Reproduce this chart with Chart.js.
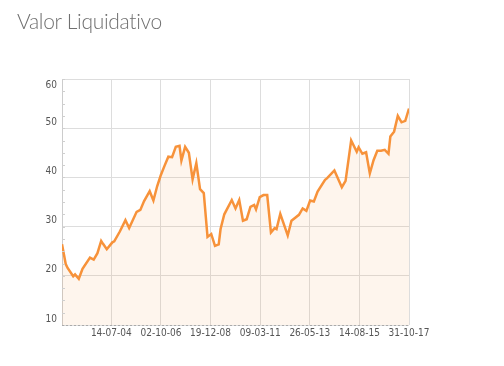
<!DOCTYPE html>
<html lang="es">
<head>
  <meta charset="UTF-8">
  <title>Valor Liquidativo</title>
  <script src="https://cdn.jsdelivr.net/npm/chart.js"></script>
  <style>
    body {
      margin: 0;
      background-color: #ffffff;
      font-family: Lato, 'Open Sans', sans-serif;
    }

    #wrap {
      position: relative;
      width: 504px;
      height: 366px;
    }

    h2 {
      position: absolute;
      left: 17px;
      top: 8px;
      margin: 0;
      font-size: 21px;
      font-weight: 300;
      color: #707070;
      letter-spacing: -0.3px;
    }

    canvas {
      position: absolute;
      left: 0;
      top: 0;
    }
  </style>
</head>
<body>

  <div id="wrap">
    <canvas id="myChart" width="504" height="366"></canvas>
    <h2>Valor Liquidativo</h2>
  </div>

  <script>
    // month of each reading (YYYY-MM) and its value
    var months = [
      '2002-05', '2002-07', '2002-08', '2002-11', '2002-12', '2003-02', '2003-04', '2003-08',
      '2003-10', '2003-12', '2004-02', '2004-03', '2004-05', '2004-08', '2004-09', '2004-12',
      '2005-03', '2005-05', '2005-09', '2005-11', '2006-01', '2006-04', '2006-06', '2006-08',
      '2006-10', '2006-12', '2007-02', '2007-04', '2007-06', '2007-08', '2007-09', '2007-11',
      '2008-01', '2008-03', '2008-05', '2008-07', '2008-09', '2008-11', '2009-01', '2009-03',
      '2009-05', '2009-06', '2009-08', '2009-12', '2010-02', '2010-04', '2010-06', '2010-08',
      '2010-10', '2010-12', '2011-01', '2011-03', '2011-05', '2011-07', '2011-09', '2011-11',
      '2011-12', '2012-02', '2012-06', '2012-08', '2012-12', '2013-02', '2013-04', '2013-06',
      '2013-08', '2013-10', '2014-02', '2014-03', '2014-07', '2014-11', '2015-01', '2015-04',
      '2015-07', '2015-08', '2015-10', '2015-12', '2016-02', '2016-04', '2016-06', '2016-08',
      '2016-10', '2016-12', '2017-01', '2017-03', '2017-05', '2017-07', '2017-09', '2017-11'
    ];
    var valores = [
      26.4, 22.4, 21.6, 19.9, 20.3, 19.4, 21.4, 23.7,
      23.3, 24.6, 27.1, 26.5, 25.4, 26.8, 27.0, 29.0,
      31.3, 29.7, 33.0, 33.4, 35.2, 37.2, 35.3, 38.2,
      40.5, 42.4, 44.2, 44.1, 46.2, 46.4, 43.4, 46.2,
      45.0, 39.6, 42.9, 37.6, 36.8, 27.9, 28.5, 26.1,
      26.4, 29.5, 32.5, 35.4, 33.7, 35.4, 31.2, 31.5,
      34.0, 34.4, 33.5, 36.0, 36.4, 36.4, 28.8, 29.7,
      29.5, 32.6, 28.2, 31.2, 32.4, 33.7, 33.2, 35.3,
      35.1, 37.1, 39.5, 39.8, 41.4, 38.0, 39.3, 47.5,
      45.2, 46.1, 44.8, 45.1, 40.8, 43.5, 45.4, 45.4,
      45.6, 44.8, 48.3, 49.3, 52.5, 51.2, 51.5, 54.0
    ];
    var fechasEje = ['14-07-04', '02-10-06', '19-12-08', '09-03-11', '26-05-13', '14-08-15', '31-10-17'];
    var ticksY = [10, 20, 30, 40, 50, 60];

    // months since Jan 2002
    function mesDe(s) {
      var p = s.split('-');
      return (parseInt(p[0]) - 2002) * 12 + parseInt(p[1]) - 1;
    }
    function mesDeFecha(s) {
      var p = s.split('-');
      return (2000 + parseInt(p[2]) - 2002) * 12 + parseInt(p[1]) - 1 + (parseInt(p[0]) - 1) / 30;
    }

    var puntos = months.map(function (m, i) { return { x: mesDe(m), y: valores[i] }; });
    var posTicks = fechasEje.map(mesDeFecha);
    var fuenteEjes = "10px 'DejaVu Sans Condensed', sans-serif";

    // y labels sit just above their grid line (the top one just below),
    // minor marks on the y axis, dotted bottom axis
    var extrasEjes = {
      id: 'extrasEjes',
      afterDatasetsDraw: function (chart) {
        var y = chart.scales.y;
        var ctx = chart.ctx;
        var area = chart.chartArea;
        ctx.save();
        ctx.strokeStyle = '#cfcfcf';
        ctx.lineWidth = 1;
        for (var v = ticksY[0]; v <= ticksY[ticksY.length - 1]; v += 2.5) {
          var py = Math.round(y.getPixelForValue(v)) + 0.5;
          ctx.beginPath();
          ctx.moveTo(area.left, py);
          ctx.lineTo(area.left + 3, py);
          ctx.stroke();
        }
        ctx.strokeStyle = '#aaaaaa';
        ctx.setLineDash([2, 2]);
        ctx.beginPath();
        ctx.moveTo(area.left, area.bottom + 0.5);
        ctx.lineTo(area.right, area.bottom + 0.5);
        ctx.stroke();
        ctx.setLineDash([]);

        ctx.fillStyle = '#555555';
        ctx.font = fuenteEjes;
        ctx.textAlign = 'right';
        ctx.textBaseline = 'middle';
        ticksY.forEach(function (t, i) {
          var py = y.getPixelForValue(t);
          var off = (i === ticksY.length - 1) ? 6 : -6;
          ctx.fillText(String(t), area.left - 5, py + off);
        });
        ctx.restore();
      }
    };

    var ctx = document.getElementById('myChart').getContext('2d');
    var myChart = new Chart(ctx, {
      type: 'line',
      data: {
        datasets: [{
          label: 'Valor Liquidativo',
          data: puntos,
          borderColor: '#f7923a',
          backgroundColor: 'rgba(250, 160, 90, 0.11)',
          borderWidth: 2.5,
          pointRadius: 0,
          fill: 'start',
          tension: 0
        }]
      },
      options: {
        responsive: false,
        animation: false,
        layout: { padding: { left: 32, top: 79, right: 95, bottom: 0 } },
        plugins: {
          legend: { display: false },
          tooltip: { enabled: false }
        },
        scales: {
          x: {
            type: 'linear',
            min: puntos[0].x,
            max: puntos[puntos.length - 1].x,
            afterBuildTicks: function (s) {
              s.ticks = posTicks.map(function (v) { return { value: v }; });
            },
            afterFit: function (s) { s.height = 41; },
            ticks: {
              autoSkip: false,
              maxRotation: 0,
              padding: 2,
              color: '#555555',
              font: { family: "'DejaVu Sans Condensed', sans-serif", size: 10 },
              callback: function (v, i) { return fechasEje[i]; }
            },
            grid: { color: '#dddddd', drawTicks: false },
            border: { display: false }
          },
          y: {
            min: 10,
            max: 60,
            afterBuildTicks: function (s) {
              s.ticks = ticksY.map(function (v) { return { value: v }; });
            },
            afterFit: function (s) { s.width = 30; },
            ticks: { display: false },
            grid: { color: '#dddddd', drawTicks: false },
            border: { color: '#cccccc' }
          }
        }
      },
      plugins: [extrasEjes]
    });
  </script>

</body>
</html>
